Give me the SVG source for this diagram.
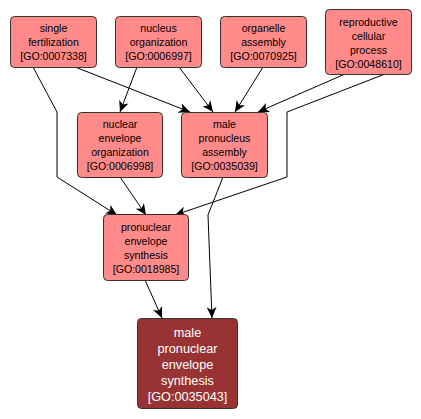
<svg xmlns="http://www.w3.org/2000/svg" width="421" height="419" viewBox="0 0 421 419">
<style>
.n rect{fill:#ff8a8a;stroke:#333;stroke-width:1}
.n text{font-family:"Liberation Sans",Arial,sans-serif;font-size:10.6px;fill:#000;text-anchor:middle}
.d rect{fill:#993333;stroke:#333;stroke-width:1}
.d text{font-family:"Liberation Sans",Arial,sans-serif;font-size:12.7px;fill:#fff;text-anchor:middle}
.e path{fill:none;stroke:#000;stroke-width:1;marker-end:url(#a)}
</style>
<defs>
<marker id="a" markerUnits="userSpaceOnUse" markerWidth="12" markerHeight="10" viewBox="0 0 12 10" refX="11" refY="5" orient="auto">
<path d="M0,0 L11,5 L0,10 L3,5 Z" fill="#000"/>
</marker>
</defs>
<rect width="421" height="419" fill="#fff"/>
<g id="edges" class="e">
<path d="M33,67 L57,112 L57,177 L117,215"/>
<path d="M75,67 L190,112"/>
<path d="M137,67 L120,112"/>
<path d="M179,67 L213,112"/>
<path d="M263,67 L235,112"/>
<path d="M345,74 L258,112"/>
<path d="M385,74 L287,112 L287,177 L175,215"/>
<path d="M120,177 L146,215"/>
<path d="M223,177 L208,215 L212,318"/>
<path d="M145,280 L162,318"/>
</g>
<g id="n1" class="n"><rect x="10.5" y="16.5" width="86" height="51" rx="4"/><text x="53.5" y="32">single</text><text x="53.5" y="46">fertilization</text><text x="53.5" y="60">[GO:0007338]</text></g>
<g id="n2" class="n"><rect x="115.5" y="16.5" width="86" height="51" rx="4"/><text x="158.5" y="32">nucleus</text><text x="158.5" y="46">organization</text><text x="158.5" y="60">[GO:0006997]</text></g>
<g id="n3" class="n"><rect x="220.5" y="16.5" width="86" height="51" rx="4"/><text x="263.5" y="32">organelle</text><text x="263.5" y="46">assembly</text><text x="263.5" y="60">[GO:0070925]</text></g>
<g id="n4" class="n"><rect x="325.5" y="9.5" width="86" height="65" rx="4"/><text x="368.5" y="25.5">reproductive</text><text x="368.5" y="39.5">cellular</text><text x="368.5" y="53.5">process</text><text x="368.5" y="67.5">[GO:0048610]</text></g>
<g id="n5" class="n"><rect x="77.5" y="112.5" width="85" height="65" rx="4"/><text x="120" y="128">nuclear</text><text x="120" y="142">envelope</text><text x="120" y="156">organization</text><text x="120" y="170">[GO:0006998]</text></g>
<g id="n6" class="n"><rect x="181.5" y="112.5" width="86" height="65" rx="4"/><text x="224.5" y="128">male</text><text x="224.5" y="142">pronucleus</text><text x="224.5" y="156">assembly</text><text x="224.5" y="170">[GO:0035039]</text></g>
<g id="n7" class="n"><rect x="103.5" y="214.5" width="85" height="66" rx="4"/><text x="146" y="231">pronuclear</text><text x="146" y="245">envelope</text><text x="146" y="259">synthesis</text><text x="146" y="273">[GO:0018985]</text></g>
<g id="n8" class="d"><rect x="137.5" y="318.5" width="100" height="90" rx="4"/><text x="187.5" y="336.5">male</text><text x="187.5" y="352.5">pronuclear</text><text x="187.5" y="369">envelope</text><text x="187.5" y="385">synthesis</text><text x="187.5" y="401">[GO:0035043]</text></g>
</svg>
